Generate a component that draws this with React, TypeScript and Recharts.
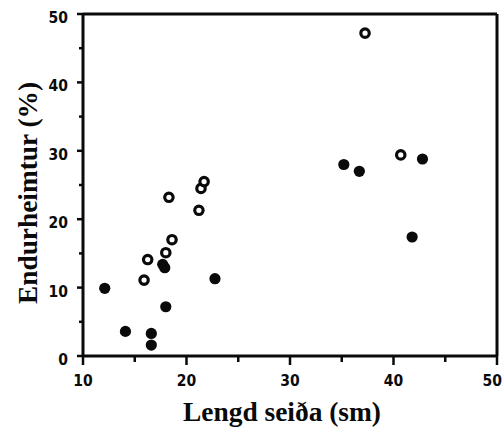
import React from 'react';
import { ScatterChart, Scatter, XAxis, YAxis, ReferenceLine } from 'recharts';

// filled dots
const filledLength = [12.1, 14.1, 16.6, 16.6, 17.7, 17.9, 18.0, 22.75, 35.2, 36.7, 42.8, 41.8];
const filledRecovery = [9.9, 3.6, 3.3, 1.6, 13.4, 12.9, 7.2, 11.3, 28.0, 27.0, 28.8, 17.4];

// open circles
const openLength = [37.25, 40.7, 18.3, 21.2, 21.4, 21.7, 18.6, 18.0, 16.25, 15.9];
const openRecovery = [47.2, 29.4, 23.2, 21.3, 24.5, 25.5, 17.0, 15.1, 14.1, 11.1];

const xTicks = [10, 15, 20, 25, 30, 35, 40, 45, 50];
const yTicks = [0, 5, 10, 15, 20, 25, 30, 35, 40, 45, 50];

const filledData = filledLength.map((x, i) => ({ x, y: filledRecovery[i] }));
const openData = openLength.map((x, i) => ({ x, y: openRecovery[i] }));

const INK = '#0a0a0a';
const tickFont = "'DejaVu Sans Condensed', 'DejaVu Sans', sans-serif";
const titleFont = "'Liberation Serif', 'Times New Roman', serif";

const XTick = ({ x, y, payload }: any) => {
  const major = payload.value % 10 === 0;
  const last = payload.value === 50; // keep the last label inside the page
  return (
    <g>
      <line x1={x} x2={x} y1={y} y2={y + (major ? 9 : 6)} stroke={INK} strokeWidth={2.5} />
      {major && (
        <text x={last ? x + 5 : x} y={y + 30} textAnchor={last ? 'end' : 'middle'} fontFamily={tickFont}
          fontStretch='condensed' fontWeight='bold' fontSize={15.5} fill={INK}>
          {payload.value}
        </text>
      )}
    </g>
  );
};

const YTick = ({ x, y, payload }: any) => {
  const major = payload.value % 10 === 0;
  return (
    <g>
      <line x1={x} x2={x - (major ? 6 : 4)} y1={y} y2={y} stroke={INK} strokeWidth={2.5} />
      {major && (
        <text x={68} y={y + 9} textAnchor='end' fontFamily={tickFont} fontStretch='condensed'
          fontWeight='bold' fontSize={15.5} fill={INK}>
          {payload.value}
        </text>
      )}
    </g>
  );
};

const FilledDot = (props: any) => <circle cx={props.cx} cy={props.cy} r={5.6} fill={INK} />;
const OpenDot = (props: any) => (
  <circle cx={props.cx} cy={props.cy} r={4.2} fill='#fff' stroke={INK} strokeWidth={3.2} />
);

export default function App() {
  return (
    <div style={{ position: 'absolute', left: 0, top: 0, background: '#fff' }}>
      <ScatterChart width={503} height={432} margin={{ top: 14, right: 6, bottom: 0, left: 0 }}>
        <XAxis
          type='number'
          dataKey='x'
          domain={[10, 50]}
          ticks={xTicks}
          interval={0}
          tickSize={0}
          tickMargin={0}
          height={76}
          axisLine={{ stroke: INK, strokeWidth: 3 }}
          tickLine={false}
          tick={<XTick />}
          label={{
            content: () => (
              <text x={282} y={421} textAnchor='middle' fontFamily={titleFont} fontWeight='bold'
                fontSize={27} fill={INK} textLength={198} lengthAdjust='spacingAndGlyphs'>
                Lengd seiða (sm)
              </text>
            ),
          }}
        />
        <YAxis
          type='number'
          dataKey='y'
          domain={[0, 50]}
          ticks={yTicks}
          interval={0}
          tickSize={0}
          tickMargin={0}
          width={83}
          axisLine={{ stroke: INK, strokeWidth: 3 }}
          tickLine={false}
          tick={<YTick />}
          label={{
            content: () => (
              <text x={37} y={193} transform='rotate(-90 37 193)' textAnchor='middle' fontFamily={titleFont}
                fontWeight='bold' fontSize={27} fill={INK} textLength={222} lengthAdjust='spacingAndGlyphs'>
                Endurheimtur (%)
              </text>
            ),
          }}
        />
        <ReferenceLine y={50} stroke={INK} strokeWidth={3} />
        <ReferenceLine x={50} stroke={INK} strokeWidth={3} />
        <Scatter data={filledData} shape={<FilledDot />} isAnimationActive={false} />
        <Scatter data={openData} shape={<OpenDot />} isAnimationActive={false} />
      </ScatterChart>
    </div>
  );
}
